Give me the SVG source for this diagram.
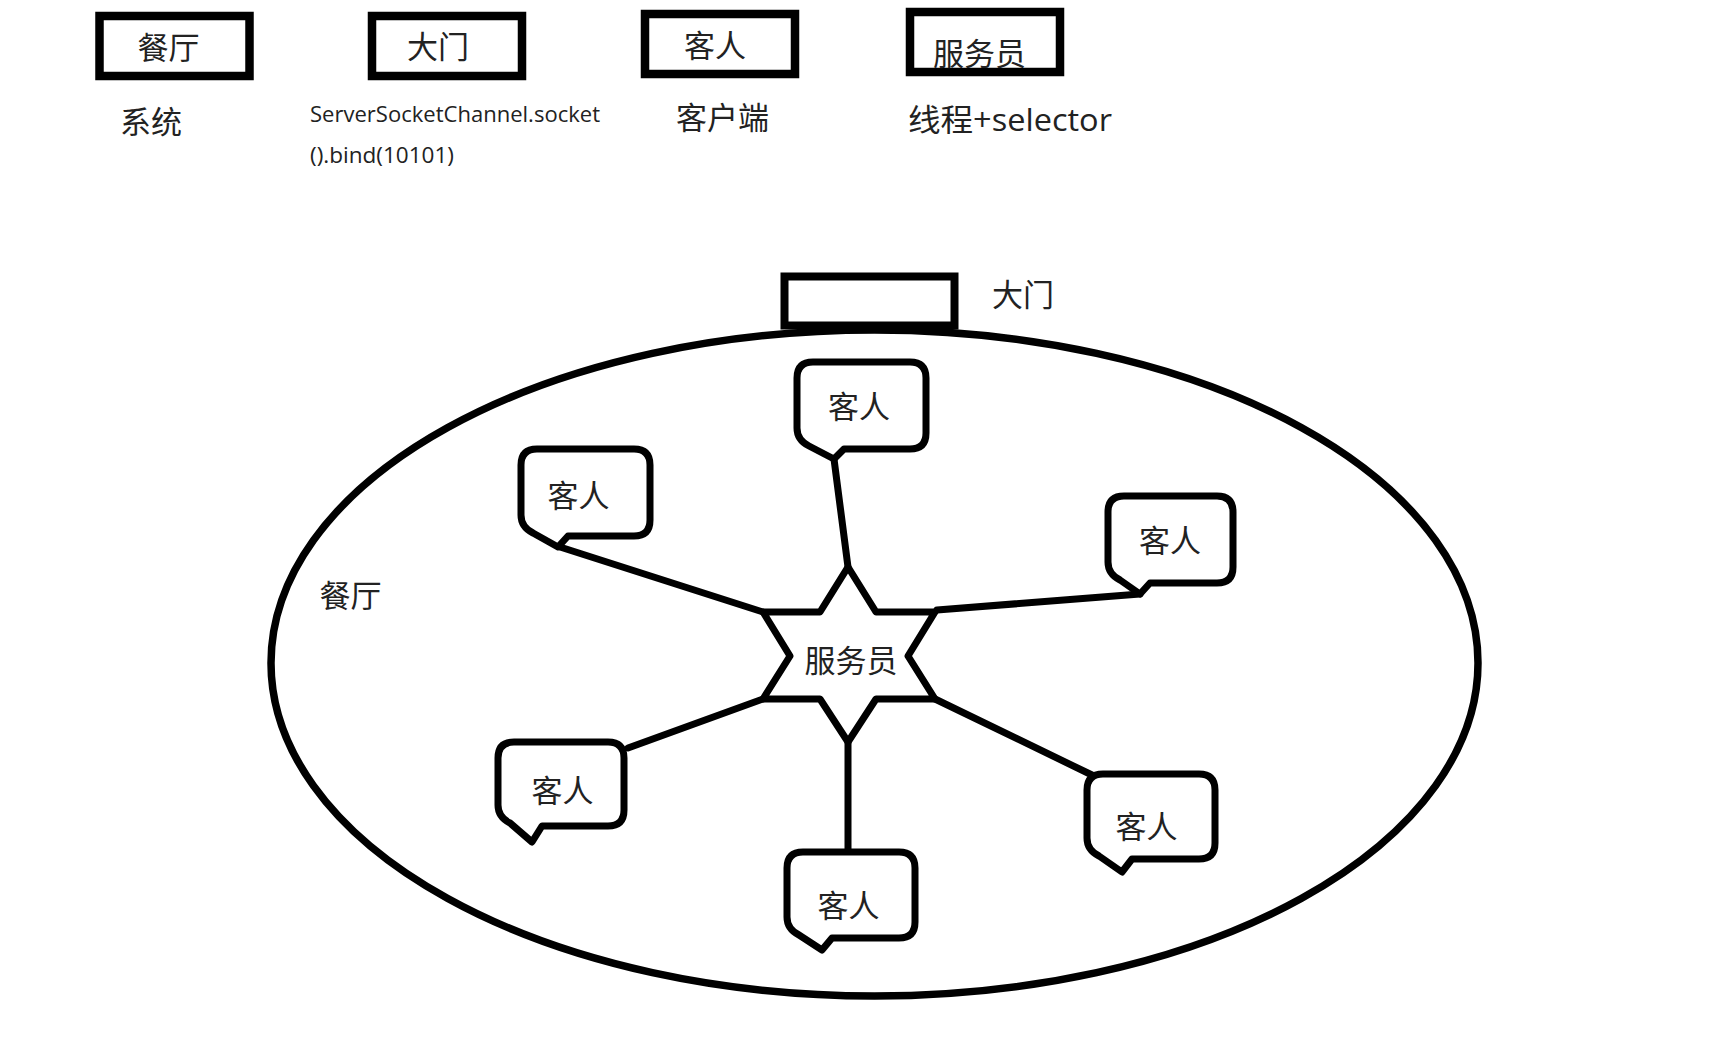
<svg xmlns="http://www.w3.org/2000/svg" width="1720" height="1046" viewBox="0 0 1720 1046">
<style>
.box{fill:#fff;stroke:#000;stroke-width:8.5}
.shape{fill:#fff;stroke:#000;stroke-width:7;stroke-linejoin:round}
.line{fill:none;stroke:#000;stroke-width:7;stroke-linecap:round}
.cjk{font-family:"Noto Sans CJK SC","Noto Sans",sans-serif;font-size:31px;fill:#222;text-anchor:middle}
.lat{font-family:"Open Sans","Noto Sans CJK SC",sans-serif;fill:#222}
</style>
<rect width="1720" height="1046" fill="#fff"/>
<g id="legend">
  <g id="legend-restaurant"><rect class="box" x="99.5" y="16" width="150" height="60"/><text class="cjk" x="168.5" y="58.5">餐厅</text><text class="cjk" x="151" y="133">系统</text></g>
  <g id="legend-door"><rect class="box" x="372" y="16" width="150" height="60"/><text class="cjk" x="438" y="57.5">大门</text>
    <text class="lat" x="310" y="122" font-size="21" textLength="290" lengthAdjust="spacingAndGlyphs">ServerSocketChannel.socket</text>
    <text class="lat" x="310" y="163" font-size="21" textLength="144" lengthAdjust="spacingAndGlyphs">().bind(10101)</text></g>
  <g id="legend-guest"><rect class="box" x="645" y="14" width="150" height="60"/><text class="cjk" x="715" y="56.5">客人</text><text class="cjk" x="722.5" y="128.5">客户端</text></g>
  <g id="legend-waiter"><rect class="box" x="910" y="12" width="150" height="60"/><text class="cjk" x="979.5" y="64.5">服务员</text>
    <text class="lat" x="908" y="131" font-size="31" textLength="204" lengthAdjust="spacingAndGlyphs"><tspan font-family="Noto Sans CJK SC">线程</tspan>+selector</text></g>
</g>
<g id="restaurant">
  <ellipse cx="874.5" cy="663" rx="603.5" ry="333" fill="none" stroke="#000" stroke-width="7.5"/>
  <text class="cjk" x="350.5" y="606.5">餐厅</text>
</g>
<g id="door">
  <rect x="784.5" y="276.5" width="170" height="49" fill="none" stroke="#000" stroke-width="8"/>
  <text class="cjk" x="1023" y="306">大门</text>
</g>
<g id="connectors">
  <line class="line" x1="834" y1="459" x2="848" y2="567"/>
  <line class="line" x1="560" y1="547" x2="763" y2="612"/>
  <line class="line" x1="937" y1="610" x2="1140" y2="594"/>
  <line class="line" x1="763" y1="699" x2="628" y2="748"/>
  <line class="line" x1="848" y1="742" x2="848" y2="852"/>
  <line class="line" x1="935" y1="699" x2="1092" y2="775"/>
</g>
<g id="waiter">
  <polygon class="shape" points="848,567 876,612 935,612 908,656 935,699 876,699 848,742 820,699 763,699 790,656 763,612 820,612"/>
  <text class="cjk" x="851" y="672">服务员</text>
</g>
<g id="guest-top">
  <path class="shape" d="M813 362H910Q926 362 926 378V433Q926 449 910 449H844L834 459L809 446Q797 440 797 428V378Q797 362 813 362Z"/>
  <text class="cjk" x="859" y="417.5">客人</text>
</g>
<g id="guest-upper-left">
  <path class="shape" d="M537 449H634Q650 449 650 465V520Q650 536 634 536H568L558 547L533 533Q521 527 521 515V465Q521 449 537 449Z"/>
  <text class="cjk" x="578.5" y="506.5">客人</text>
</g>
<g id="guest-right">
  <path class="shape" d="M1124 496H1217Q1233 496 1233 512V567Q1233 583 1217 583H1150L1140 594L1120 580Q1108 574 1108 562V512Q1108 496 1124 496Z"/>
  <text class="cjk" x="1170" y="552">客人</text>
</g>
<g id="guest-lower-left">
  <path class="shape" d="M514 742H608Q624 742 624 758V810Q624 826 608 826H542L532 842L510 823Q498 817 498 805V758Q498 742 514 742Z"/>
  <text class="cjk" x="562.5" y="801.5">客人</text>
</g>
<g id="guest-bottom">
  <path class="shape" d="M803 852H899Q915 852 915 868V922Q915 938 899 938H832L822 950L799 935Q787 929 787 917V868Q787 852 803 852Z"/>
  <text class="cjk" x="848.5" y="917">客人</text>
</g>
<g id="guest-lower-right">
  <path class="shape" d="M1103 774H1199Q1215 774 1215 790V843Q1215 859 1199 859H1132L1122 872L1099 856Q1087 850 1087 838V790Q1087 774 1103 774Z"/>
  <text class="cjk" x="1146.5" y="838">客人</text>
</g>
</svg>
